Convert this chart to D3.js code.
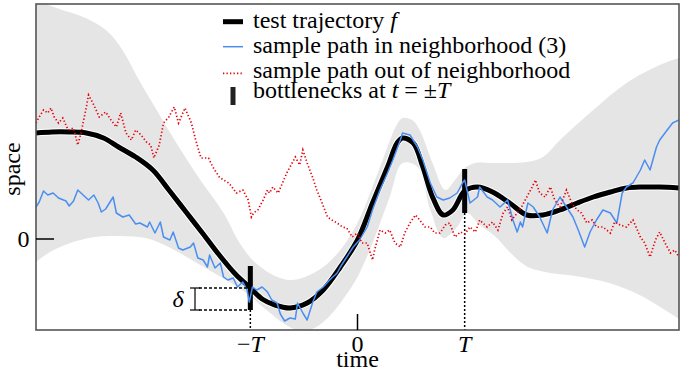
<!DOCTYPE html>
<html>
<head>
<meta charset="utf-8">
<script src="https://cdn.jsdelivr.net/npm/d3@7"></script>
<style>
  body { margin: 0; background: #fff; }
  text { font-family: "Liberation Serif", "DejaVu Serif", serif; fill: #000; }
</style>
</head>
<body>
<svg id="chart"></svg>
<script>
// time in units of T, space in arbitrary units (0 = reference level)
var testTrajectory = [[-3.00,10.6],[-2.85,10.7],[-2.69,10.7],[-2.53,10.6],[-2.37,10.1],[-2.23,9.2],[-2.07,8.2],[-1.91,6.9],[-1.76,4.9],[-1.60,2.7],
  [-1.44,0.5],[-1.29,-1.6],[-1.14,-3.5],[-1.00,-4.9],[-0.89,-6.0],[-0.77,-6.6],[-0.63,-6.9],[-0.47,-6.4],[-0.32,-5.1],[-0.16,-2.8],
  [0.00,-0.1],[0.14,3.6],[0.28,7.2],[0.37,9.6],[0.42,10.1],[0.52,9.6],[0.61,7.2],[0.70,4.2],[0.80,2.4],[0.89,2.9],
  [1.00,4.8],[1.12,5.2],[1.26,4.7],[1.42,3.6],[1.58,2.4],[1.73,2.4],[1.89,2.9],[2.05,3.6],[2.20,4.2],[2.36,4.7],
  [2.51,5.1],[2.66,5.2],[2.82,5.2],[3.00,5.1]];

var bandUpper = [[-3.00,24.0],[-2.93,23.6],[-2.78,23.0],[-2.56,22.2],[-2.40,21.3],[-2.29,20.3],[-2.17,18.5],[-2.05,16.1],[-1.88,13.0],[-1.69,9.6],
  [-1.48,6.1],[-1.25,2.6],[-1.10,-0.4],[-0.96,-2.3],[-0.77,-3.7],[-0.63,-4.1],[-0.49,-3.8],[-0.32,-2.8],[-0.16,-1.1],[0.00,1.6],
  [0.14,5.2],[0.28,9.2],[0.36,11.3],[0.42,12.1],[0.51,11.9],[0.58,10.9],[0.70,7.6],[0.82,4.9],[0.91,5.9],[1.00,7.1],
  [1.10,7.6],[1.26,7.6],[1.58,7.7],[1.73,8.2],[1.89,9.9],[2.20,12.9],[2.51,15.6],[2.82,17.4],[3.00,18.1]];

var bandLower = [[-3.00,-2.3],[-2.87,-1.3],[-2.68,-0.4],[-2.45,0.2],[-2.22,0.3],[-1.98,0.1],[-1.80,-0.6],[-1.61,-1.7],[-1.42,-2.9],[-1.24,-4.0],
  [-1.05,-5.3],[-0.86,-7.0],[-0.68,-8.5],[-0.54,-9.2],[-0.40,-8.9],[-0.26,-7.7],[-0.12,-5.8],[0.00,-3.8],[0.14,-0.4],[0.30,4.2],
  [0.42,7.6],[0.56,7.2],[0.68,2.9],[0.80,0.1],[0.93,1.2],[1.02,2.6],[1.14,1.4],[1.28,0.3],[1.42,-1.3],[1.52,-2.3],
  [1.61,-2.9],[1.80,-3.4],[2.03,-3.7],[2.35,-4.4],[2.65,-5.7],[3.00,-8.0]];

var pathInside = [[-3.00,3.2],[-2.97,3.7],[-2.93,4.8],[-2.89,4.4],[-2.84,4.6],[-2.79,4.1],[-2.72,3.8],[-2.69,3.3],[-2.65,3.8],[-2.61,4.9],
  [-2.56,4.4],[-2.51,3.9],[-2.46,4.4],[-2.42,3.6],[-2.39,2.7],[-2.35,3.0],[-2.28,4.2],[-2.25,2.6],[-2.19,2.2],[-2.13,2.4],
  [-2.07,1.5],[-2.03,1.6],[-1.96,1.2],[-1.94,1.7],[-1.89,0.6],[-1.84,1.7],[-1.81,0.2],[-1.75,-0.1],[-1.72,0.7],[-1.67,-0.9],
  [-1.63,-1.1],[-1.56,-0.8],[-1.53,-0.4],[-1.49,-1.9],[-1.44,-2.1],[-1.40,-2.8],[-1.38,-1.6],[-1.33,-2.9],[-1.28,-2.4],[-1.25,-3.8],
  [-1.21,-4.1],[-1.16,-3.9],[-1.12,-4.8],[-1.07,-4.3],[-1.03,-5.1],[-1.01,-6.3],[-0.98,-4.8],[-0.94,-5.1],[-0.89,-4.8],[-0.84,-5.3],
  [-0.80,-6.1],[-0.75,-6.4],[-0.72,-7.5],[-0.68,-8.2],[-0.63,-7.9],[-0.58,-8.0],[-0.56,-6.4],[-0.51,-7.4],[-0.47,-8.1],[-0.42,-6.4],
  [-0.38,-5.3],[-0.32,-4.8],[-0.26,-4.1],[-0.19,-3.4],[-0.16,-2.8],[-0.10,-1.8],[-0.04,-0.8],[0.02,-0.1],[0.09,1.2],[0.14,2.9],
  [0.21,4.9],[0.28,6.6],[0.33,7.9],[0.40,9.9],[0.42,10.6],[0.49,10.4],[0.56,9.2],[0.61,7.9],[0.68,5.6],[0.74,4.2],
  [0.80,3.9],[0.86,4.1],[0.93,4.6],[0.98,5.6],[1.00,5.9],[1.05,3.6],[1.12,4.2],[1.14,5.2],[1.21,4.2],[1.26,3.9],
  [1.33,3.2],[1.40,3.9],[1.45,1.9],[1.49,0.7],[1.52,1.7],[1.54,1.2],[1.59,3.6],[1.64,3.2],[1.70,2.2],[1.77,0.6],
  [1.82,2.9],[1.89,4.2],[1.95,3.2],[2.01,2.2],[2.06,0.9],[2.12,-0.8],[2.17,0.7],[2.23,1.9],[2.29,2.9],[2.36,2.6],
  [2.42,1.6],[2.47,4.6],[2.51,5.2],[2.57,5.6],[2.64,6.9],[2.68,7.9],[2.73,6.9],[2.79,9.2],[2.82,9.9],[2.89,10.9],
  [2.94,11.6],[3.00,11.9]];

var pathOutside = [[-3.00,11.6],[-2.97,12.2],[-2.93,12.9],[-2.89,12.6],[-2.86,13.1],[-2.83,12.2],[-2.79,11.6],[-2.75,12.1],[-2.70,10.9],[-2.65,11.1],
  [-2.61,9.4],[-2.58,10.6],[-2.53,13.2],[-2.51,14.4],[-2.46,13.4],[-2.41,12.2],[-2.35,12.7],[-2.30,11.9],[-2.25,11.2],[-2.21,12.6],
  [-2.16,10.6],[-2.11,9.9],[-2.07,10.9],[-2.02,10.4],[-1.97,9.7],[-1.93,9.4],[-1.90,8.1],[-1.85,9.4],[-1.81,11.6],[-1.76,12.2],
  [-1.71,13.2],[-1.67,11.6],[-1.61,13.1],[-1.55,11.6],[-1.51,9.9],[-1.46,8.1],[-1.39,8.1],[-1.35,7.2],[-1.29,6.2],[-1.25,5.9],
  [-1.20,5.6],[-1.13,4.6],[-1.07,4.9],[-1.02,3.9],[-0.99,2.2],[-0.97,2.6],[-0.93,2.9],[-0.88,3.9],[-0.84,4.9],[-0.82,4.6],
  [-0.79,5.2],[-0.74,4.6],[-0.70,5.6],[-0.66,6.6],[-0.61,7.6],[-0.58,8.2],[-0.54,7.4],[-0.51,8.9],[-0.47,7.6],[-0.42,6.2],
  [-0.38,4.9],[-0.33,3.6],[-0.28,2.2],[-0.24,1.9],[-0.19,1.6],[-0.14,1.2],[-0.10,1.1],[-0.05,0.2],[0.00,0.6],[0.04,-0.4],
  [0.09,-0.4],[0.14,-2.1],[0.16,-1.1],[0.21,0.9],[0.26,0.6],[0.30,0.9],[0.35,-0.4],[0.40,-0.8],[0.44,0.6],[0.49,1.6],
  [0.54,2.4],[0.58,1.9],[0.63,1.2],[0.68,1.2],[0.72,0.6],[0.77,0.6],[0.82,1.4],[0.86,1.6],[0.91,0.2],[0.96,0.7],
  [1.00,0.5],[1.05,1.2],[1.10,0.7],[1.14,1.9],[1.21,1.2],[1.26,1.7],[1.31,0.9],[1.36,2.6],[1.40,3.2],[1.44,1.9],
  [1.49,2.6],[1.53,3.2],[1.58,4.2],[1.63,5.2],[1.66,5.9],[1.70,4.6],[1.75,4.2],[1.80,5.2],[1.84,3.9],[1.89,3.2],
  [1.95,4.9],[2.00,3.6],[2.05,2.9],[2.09,2.6],[2.14,1.6],[2.19,1.9],[2.23,1.2],[2.29,1.2],[2.36,0.6],[2.40,1.7],
  [2.45,1.4],[2.51,1.2],[2.57,1.9],[2.64,0.2],[2.68,-0.4],[2.73,-1.8],[2.78,-0.1],[2.82,0.7],[2.87,-0.4],[2.92,-1.4],
  [2.96,-1.1],[3.00,-1.8]];

var bottleneckTimes = [-1, 1];
var bottleneckCenters = [-4.9, 4.8];
var delta = 2.2;
var timeTicks = [-1, 0, 1];
var timeTickLabels = [['\u2212', 'T'], ['0', ''], ['', 'T']];
var legendLabels = [
  [['test trajectory ', false], ['f', true]],
  [['sample path in neighborhood (3)', false]],
  [['sample path out of neighborhood', false]],
  [['bottlenecks at ', false], ['t', true], [' = \u00b1', false], ['T', true]]
];

var blue = '#4a8ef2';
var red = '#e8000b';
var band = '#e5e5e5';
var fontSize = '24px';

var width = 684, height = 372;
var svg = d3.select('#chart').attr('width', width).attr('height', height);

var x = d3.scaleLinear().domain([-3, 3]).range([36, 679]);
var y = d3.scaleLinear().domain([-9.1, 23.5]).range([330, 4]);

svg.append('clipPath').attr('id', 'plotClip')
  .append('rect')
  .attr('x', x.range()[0]).attr('y', y.range()[1])
  .attr('width', x.range()[1] - x.range()[0])
  .attr('height', y.range()[0] - y.range()[1]);

var plot = svg.append('g').attr('clip-path', 'url(#plotClip)');

var smooth = d3.line()
  .x(function(d) { return x(d[0]); })
  .y(function(d) { return y(d[1]); })
  .curve(d3.curveCatmullRom.alpha(0.5));

var rough = d3.line()
  .x(function(d) { return x(d[0]); })
  .y(function(d) { return y(d[1]); });

// neighborhood band: upper edge forward, lower edge back
var lowerBack = smooth(bandLower.slice().reverse());
plot.append('path')
  .attr('d', smooth(bandUpper) + 'L' + lowerBack.slice(1) + 'Z')
  .attr('fill', band);

// test trajectory with a thin white halo
plot.append('path').attr('d', smooth(testTrajectory))
  .attr('fill', 'none').attr('stroke', '#fff').attr('stroke-width', 7)
  .attr('stroke-linejoin', 'round');
plot.append('path').attr('d', smooth(testTrajectory))
  .attr('fill', 'none').attr('stroke', '#000').attr('stroke-width', 5)
  .attr('stroke-linejoin', 'round');

// bottlenecks
bottleneckTimes.forEach(function(t, i) {
  var c = bottleneckCenters[i];
  plot.append('rect')
    .attr('x', x(t) - 2.5).attr('width', 5)
    .attr('y', y(c + delta)).attr('height', y(c - delta) - y(c + delta))
    .attr('fill', '#000');
  plot.append('line')
    .attr('x1', x(t)).attr('x2', x(t))
    .attr('y1', y(c - delta)).attr('y2', y.range()[0])
    .attr('stroke', '#000').attr('stroke-width', 1.5)
    .attr('stroke-dasharray', '2,2');
});

plot.append('path').attr('d', rough(pathInside))
  .attr('fill', 'none').attr('stroke', blue).attr('stroke-width', 1.5)
  .attr('stroke-linejoin', 'round');

plot.append('path').attr('d', rough(pathOutside))
  .attr('fill', 'none').attr('stroke', red).attr('stroke-width', 1.7)
  .attr('stroke-dasharray', '1.3,2.2');

// delta annotation at -T
var fMinus = bottleneckCenters[0];
[fMinus, fMinus - delta].forEach(function(v) {
  svg.append('line')
    .attr('x1', 199).attr('x2', x(-1) - 2.5)
    .attr('y1', y(v)).attr('y2', y(v))
    .attr('stroke', '#000').attr('stroke-width', 1.5)
    .attr('stroke-dasharray', '3,2');
  svg.append('line')
    .attr('x1', 190).attr('x2', 200)
    .attr('y1', y(v)).attr('y2', y(v))
    .attr('stroke', '#000').attr('stroke-width', 1.2);
});
svg.append('line')
  .attr('x1', 195).attr('x2', 195)
  .attr('y1', y(fMinus)).attr('y2', y(fMinus - delta))
  .attr('stroke', '#000').attr('stroke-width', 1.2);
svg.append('text')
  .attr('x', 178).attr('y', 307)
  .attr('text-anchor', 'middle')
  .style('font-size', fontSize).style('font-style', 'italic')
  .text('\u03b4');

// frame
svg.append('rect')
  .attr('x', x.range()[0]).attr('y', y.range()[1])
  .attr('width', x.range()[1] - x.range()[0])
  .attr('height', y.range()[0] - y.range()[1])
  .attr('fill', 'none').attr('stroke', '#555').attr('stroke-width', 1.6);

// y tick at 0
svg.append('line')
  .attr('x1', x.range()[0]).attr('x2', x.range()[0] + 18)
  .attr('y1', y(0)).attr('y2', y(0))
  .attr('stroke', '#000').attr('stroke-width', 1.5);
svg.append('text')
  .attr('x', 23.5).attr('y', y(0) + 8)
  .attr('text-anchor', 'middle').style('font-size', fontSize)
  .text('0');

// time ticks
svg.append('line')
  .attr('x1', x(0)).attr('x2', x(0))
  .attr('y1', y.range()[0]).attr('y2', y.range()[0] - 16)
  .attr('stroke', '#000').attr('stroke-width', 1.5);
timeTicks.forEach(function(t, i) {
  var lbl = svg.append('text')
    .attr('x', x(t)).attr('y', 352)
    .attr('text-anchor', 'middle').style('font-size', fontSize);
  lbl.append('tspan').text(timeTickLabels[i][0]);
  lbl.append('tspan').style('font-style', 'italic').text(timeTickLabels[i][1]);
});

svg.append('text')
  .attr('x', x(0)).attr('y', 367)
  .attr('text-anchor', 'middle').style('font-size', fontSize)
  .text('time');

svg.append('text')
  .attr('transform', 'translate(20,169) rotate(-90)')
  .attr('text-anchor', 'middle').style('font-size', fontSize)
  .text('space');

// legend
var legendBase = [27.7, 53.3, 77.7, 97.7];
var legend = svg.append('g');
legend.append('line').attr('x1', 223).attr('x2', 243).attr('y1', 21.7).attr('y2', 21.7)
  .attr('stroke', '#000').attr('stroke-width', 5);
legend.append('line').attr('x1', 223).attr('x2', 243).attr('y1', 46.7).attr('y2', 46.7)
  .attr('stroke', blue).attr('stroke-width', 1.5);
legend.append('line').attr('x1', 223).attr('x2', 243).attr('y1', 73.3).attr('y2', 73.3)
  .attr('stroke', red).attr('stroke-width', 1.7).attr('stroke-dasharray', '1.3,2.2');
legend.append('rect').attr('x', 230.5).attr('y', 87).attr('width', 5).attr('height', 18)
  .attr('fill', '#222');

legendLabels.forEach(function(parts, i) {
  var t = legend.append('text')
    .attr('x', 253).attr('y', legendBase[i])
    .style('font-size', fontSize);
  parts.forEach(function(p) {
    t.append('tspan').style('font-style', p[1] ? 'italic' : 'normal')
      .attr('xml:space', 'preserve').text(p[0]);
  });
});
</script>
</body>
</html>
